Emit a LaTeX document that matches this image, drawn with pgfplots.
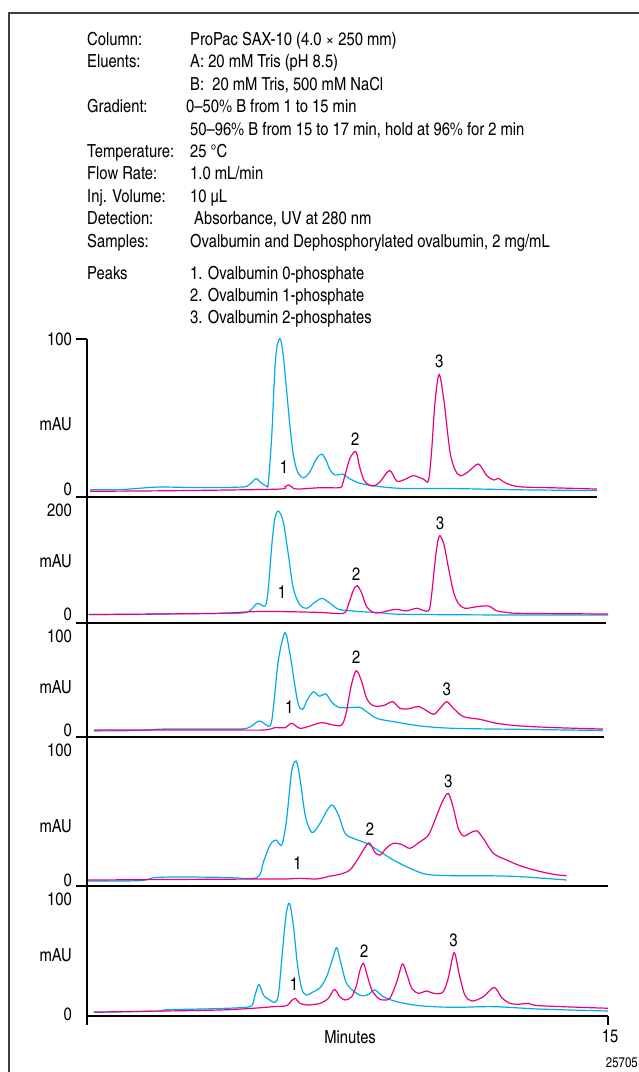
\documentclass[border=0pt]{standalone}
\usepackage{pgfplots}
\pgfplotsset{compat=1.18}
\usepackage{fontspec}
\setmainfont{TeX Gyre Heros Cn}
\definecolor{cblue}{RGB}{0,170,236}
\definecolor{cmag}{RGB}{232,0,130}
\newcommand\mf{\fontsize{18}{21.5}\selectfont}
\tikzset{lbl/.style={font=\mf, inner sep=0pt}}
\pgfplotsset{
  panel/.style={
    width=521pt, scale only axis, anchor=south west,
    xmin=0, xmax=15,
    axis x line=none, axis y line=left,
    axis line style={-, line width=1.1pt},
    xtick=\empty,
    major tick length=0pt,
    yticklabel style={font=\mf, anchor=east, inner sep=0pt, xshift=-15pt},
    /pgf/number format/assume math mode=true,
    clip=false,
    every axis plot/.append style={line width=1.2pt, smooth, tension=0.5, mark=none},
  },
}
\begin{document}
\begin{tikzpicture}
\useasboundingbox (0pt,0pt) rectangle (639pt,-1072pt);
\draw[line width=1.4pt, black!75] (9pt,-1072pt) -- (9pt,-13pt) -- (639pt,-13pt);
% header text
\begin{scope}[every node/.style={font=\mf, inner sep=0pt, anchor=base west}]
\node at (87pt,-45.5pt) {Column:};      \node at (190pt,-45.5pt) {ProPac SAX-10 (4.0 × 250 mm)};
\node at (87pt,-67.9pt) {Eluents:};     \node at (190pt,-67.9pt) {A: 20 mM Tris (pH 8.5)};
                                        \node at (190pt,-90.3pt) {B:\ \ 20 mM Tris, 500 mM NaCl};
\node at (87pt,-112.7pt) {Gradient:};   \node at (186pt,-112.7pt) {0–50\% B from 1 to 15 min};
                                        \node at (190pt,-135.1pt) {50–96\% B from 15 to 17 min, hold at 96\% for 2 min};
\node at (87pt,-157.5pt) {Temperature:};\node at (190pt,-157.5pt) {25 °C};
\node at (87pt,-179.9pt) {Flow Rate:};  \node at (190pt,-179.9pt) {1.0 mL/min};
\node at (87pt,-202.3pt) {Inj. Volume:};\node at (190pt,-202.3pt) {10 µL};
\node at (87pt,-224.7pt) {Detection:};  \node at (194pt,-224.7pt) {Absorbance, UV at 280 nm};
\node at (87pt,-247.1pt) {Samples:};    \node at (190pt,-247.1pt) {Ovalbumin and Dephosphorylated ovalbumin, 2 mg/mL};
\node at (87pt,-279.2pt) {Peaks};       \node at (190pt,-279.2pt) {1. Ovalbumin 0-phosphate};
                                        \node at (190pt,-301.4pt) {2. Ovalbumin 1-phosphate};
                                        \node at (190pt,-323.6pt) {3. Ovalbumin 2-phosphates};
\end{scope}

% ---------- Panel 1 ----------
\begin{axis}[panel, at={(87pt,-497pt)}, height=158pt, ymin=-5.3, ymax=100, ytick={0,100}]
\addplot[cblue] coordinates {(0.09,-0.5) (1.0,-0.3) (1.9,1.2) (2.4,1.3) (3.0,1.0) (3.83,1.0) (4.4,1.3) (4.6,1.8) (4.75,4.5) (4.87,7) (5.03,3.8) (5.17,2) (5.22,4) (5.32,36) (5.41,80.7) (5.48,96) (5.57,100) (5.65,89) (5.75,65) (5.84,42.7) (5.94,22.7) (6.06,11.6) (6.23,7.5) (6.42,11.6) (6.61,20.4) (6.76,23.3) (6.88,19.3) (7.00,12.7) (7.14,9.3) (7.36,10) (7.52,7.5) (7.86,3.8) (8.44,1.6) (9.11,0.4) (10.36,0.4) (12.47,-0.5) (14.68,-1)};
\addplot[cmag] coordinates {(0.09,-1.5) (2.0,-1.2) (3.83,-0.7) (5.56,0) (5.70,1.5) (5.80,2.7) (5.89,1.5) (6.04,0) (6.71,0.9) (7.28,0.9) (7.35,3) (7.43,9.3) (7.57,20.4) (7.74,24.9) (7.86,13.8) (8.00,4.9) (8.24,2) (8.44,4.9) (8.71,12.4) (8.92,5.3) (9.16,6.5) (9.40,8.9) (9.68,6.7) (9.83,5.6) (9.92,24.9) (10.02,58.2) (10.14,76.4) (10.28,58.2) (10.45,24.9) (10.60,12.7) (10.76,8.9) (10.98,11.6) (11.27,16.7) (11.51,8.9) (11.72,6) (11.84,7.1) (12.08,3.8) (12.47,1.5) (13.5,0.8) (14.68,0)};
\draw[line width=1.1pt] (rel axis cs:0,0) -- (rel axis cs:0.979,0);
\draw[line width=1.1pt] (rel axis cs:0,0) -- ++(-11pt,0pt);
\draw[line width=1.1pt] (rel axis cs:0,1) -- ++(-11pt,0pt);
\node[lbl, anchor=east, xshift=-15pt] at (rel axis cs:0,0.46) {mAU};
\node[lbl] at (axis cs:5.67,14.9) {1};
\node[lbl] at (axis cs:7.72,33.3) {2};
\node[lbl] at (axis cs:10.14,84.9) {3};
\end{axis}

% ---------- Panel 2 ----------
\begin{axis}[panel, at={(87pt,-623pt)}, height=126pt, ymin=-17.3, ymax=225, ytick={0,200}]
\addplot[cblue] coordinates {(0.05,-1) (1.5,-0.8) (2.5,0.5) (3.83,1.3) (4.60,3.2) (4.90,20.5) (5.13,15.4) (5.22,49) (5.32,132) (5.41,184) (5.51,198) (5.65,177.5) (5.80,113) (5.94,49) (6.13,17.3) (6.33,11) (6.52,20.5) (6.76,30) (7.00,20.5) (7.24,9) (7.57,6.4) (7.86,4.5) (8.44,2.6) (9.11,-0.6) (12.47,-2) (15,-2)};
\addplot[cmag] coordinates {(0.05,-1) (2.0,0) (3.83,1.3) (4.79,4.5) (5.75,4.5) (6.71,3) (7.38,1.3) (7.52,17.3) (7.67,46) (7.78,54.5) (7.91,40) (8.05,14) (8.24,3.2) (8.44,2.6) (8.87,9) (9.20,6) (9.49,11) (9.83,6) (9.92,36.5) (10.02,100.6) (10.09,136) (10.16,150.6) (10.28,132.7) (10.40,91) (10.55,43) (10.69,20.5) (10.88,11) (11.22,14) (11.56,15.4) (11.80,6) (12.08,3.2) (12.47,1.3) (15,0)};
\draw[line width=1.1pt] (rel axis cs:0,0) -- (rel axis cs:0.996,0);
\draw[line width=1.1pt] (rel axis cs:0,0) -- ++(-11pt,0pt);
\node[lbl, anchor=east, xshift=-15pt] at (rel axis cs:0,0.49) {mAU};
\node[lbl] at (axis cs:5.61,41.7) {1};
\node[lbl] at (axis cs:7.75,76.9) {2};
\node[lbl] at (axis cs:10.16,174.4) {3};
\end{axis}

% ---------- Panel 3 ----------
\begin{axis}[panel, at={(87pt,-737pt)}, height=114pt, ymin=-7.45, ymax=113.8, ytick={0,100}]
\addplot[cblue] coordinates {(0.2,-1) (1.5,-0.5) (2.2,1) (3.83,1) (4.60,1.8) (4.96,9.6) (5.27,4.3) (5.38,28.4) (5.51,74.5) (5.70,103.5) (5.84,81.6) (5.99,46) (6.09,26.6) (6.21,22) (6.34,31.9) (6.52,40.7) (6.69,36) (6.88,38.3) (7.04,30) (7.24,24.1) (7.57,23.8) (7.86,24.1) (8.05,19.5) (8.34,12.4) (8.82,8.9) (9.59,4.3) (10.55,1.8) (12.47,0.7) (14.85,-0.5)};
\addplot[cmag] coordinates {(0.2,0) (3.83,0) (5.08,0) (5.41,2.5) (5.70,2.5) (5.89,7.1) (6.13,1.8) (6.42,4.3) (6.76,7.8) (7.09,5.3) (7.33,5.3) (7.46,17.7) (7.60,46) (7.75,63.1) (7.91,51.4) (8.05,33.7) (8.24,25.9) (8.53,25.9) (8.80,30.1) (9.01,23) (9.25,22.5) (9.57,24.8) (9.97,16.7) (10.16,23) (10.36,30.1) (10.55,23) (10.84,14.2) (11.32,11.3) (11.80,7.1) (12.47,4.3) (13.5,2.5) (14.85,1)};
\draw[line width=1.1pt] (rel axis cs:0,0) -- (rel axis cs:0.993,0);
\draw[line width=1.1pt] (rel axis cs:0,0) -- ++(-11pt,0pt);
\node[lbl, anchor=east, xshift=-15pt] at (rel axis cs:0,0.44) {mAU};
\node[lbl] at (axis cs:5.82,24.1) {1};
\node[lbl] at (axis cs:7.75,77.3) {2};
\node[lbl] at (axis cs:10.36,43.3) {3};
\end{axis}

% ---------- Panel 4 ----------
\begin{axis}[panel, at={(87pt,-886pt)}, height=149pt, ymin=-4.6, ymax=110, ytick={0,100}]
\addplot[cblue] coordinates {(0.03,-0.8) (1.5,-0.5) (2.0,2) (3.0,2.3) (4.0,2.0) (4.89,1.8) (5.08,14) (5.27,27) (5.44,30.8) (5.61,27) (5.75,47.4) (5.89,83.3) (6.02,91.5) (6.13,78.2) (6.28,50) (6.42,38.5) (6.52,36.7) (6.71,43.6) (6.90,53) (7.06,57.7) (7.24,50) (7.43,35.9) (7.67,32) (8.05,28.2) (8.44,21.8) (8.82,15.4) (9.30,9) (9.78,4.4) (10.55,3.3) (11.51,3.3) (12.47,2.6) (13.81,0)};
\addplot[cmag] coordinates {(0.03,0) (3,0.5) (5.27,0.8) (5.75,0.8) (6.13,1.3) (6.61,0.8) (7.00,3) (7.28,4.4) (7.57,7.7) (7.81,16.7) (8.05,27) (8.15,28.2) (8.29,21.3) (8.44,19.2) (8.63,24.9) (8.82,28.2) (9.06,27.4) (9.30,24.4) (9.59,29.5) (9.83,34.6) (10.02,46.2) (10.21,59) (10.40,66.7) (10.55,55) (10.69,39.7) (10.84,33.8) (11.03,36.2) (11.22,37.9) (11.41,32) (11.70,20.5) (12.08,15.4) (12.47,11) (12.95,7.2) (13.43,4.4) (13.81,3.3)};
\draw[line width=1.1pt] (rel axis cs:0,0) -- (rel axis cs:1,0);
\draw[line width=1.1pt] (rel axis cs:0,0) -- ++(-11pt,0pt);
\node[lbl, anchor=east, xshift=-15pt] at (rel axis cs:0,0.40) {mAU};
\node[lbl] at (axis cs:6.06,13.3) {1};
\node[lbl] at (axis cs:8.15,39) {2};
\node[lbl] at (axis cs:10.40,76.2) {3};
\end{axis}

% ---------- Panel 5 ----------
\begin{axis}[panel, at={(87pt,-1016pt)}, height=130pt, ymin=-1.74, ymax=111.3, ytick={0,100}]
\addplot[cblue] coordinates {(0.2,1.5) (2.0,2.5) (2.3,3.7) (3.5,4.5) (4.41,5.5) (4.74,7.2) (4.84,16.5) (4.95,25.8) (5.08,16.5) (5.22,13) (5.41,10.1) (5.51,16.5) (5.61,48.4) (5.73,86) (5.83,96.2) (5.94,77.4) (6.06,42.6) (6.18,22.3) (6.31,16.5) (6.52,19.4) (6.71,22.9) (6.90,32.5) (7.09,49.9) (7.19,57.7) (7.30,45.5) (7.46,27.5) (7.67,20) (7.91,15.9) (8.10,17) (8.29,20.9) (8.53,15.1) (8.92,10.7) (9.59,7.2) (10.55,5.8) (11.70,6.4) (13.04,4.3) (15,2.6)};
\addplot[cmag] coordinates {(0.2,1.7) (2.0,2.5) (3.83,3.5) (4.79,5) (5.37,6.4) (5.75,7.2) (5.86,10.7) (5.99,13.6) (6.13,9.3) (6.37,7.8) (6.71,9.3) (6.95,13.6) (7.12,21.4) (7.28,15) (7.43,12.2) (7.62,15) (7.76,25.2) (7.86,38.3) (7.96,44.1) (8.05,35.4) (8.20,20.9) (8.39,13.6) (8.53,12.2) (8.72,13.6) (8.92,28.1) (9.08,43.5) (9.20,35.4) (9.35,22.3) (9.54,18) (9.78,20) (9.97,18) (10.24,18.8) (10.40,31) (10.57,53.3) (10.72,33.9) (10.88,16.5) (11.08,11.3) (11.41,15) (11.72,23.2) (11.94,14.2) (12.18,9.3) (12.45,8.5) (12.71,9.3) (13.04,7.2) (15,5)};
\draw[line width=1.1pt] (rel axis cs:0,0) -- (rel axis cs:1,0);
\draw[line width=1.1pt] (rel axis cs:0,0) -- ++(0pt,-9pt);
\draw[line width=1.1pt] (rel axis cs:1,0) -- ++(0pt,-9pt);
\node[lbl, anchor=east, xshift=-15pt] at (rel axis cs:0,0.47) {mAU};
\node[lbl, yshift=-20pt, xshift=2pt] at (rel axis cs:1,0) {15};
\node[lbl, yshift=-21pt] at (rel axis cs:0.505,0) {Minutes};
\node[lbl] at (axis cs:5.96,25.8) {1};
\node[lbl] at (axis cs:7.98,54.8) {2};
\node[lbl] at (axis cs:10.55,64.3) {3};
\end{axis}
\node[anchor=east, inner sep=0pt, font=\fontsize{14}{16}\selectfont] at (638pt,-1063pt) {25705};
\end{tikzpicture}
\end{document}
